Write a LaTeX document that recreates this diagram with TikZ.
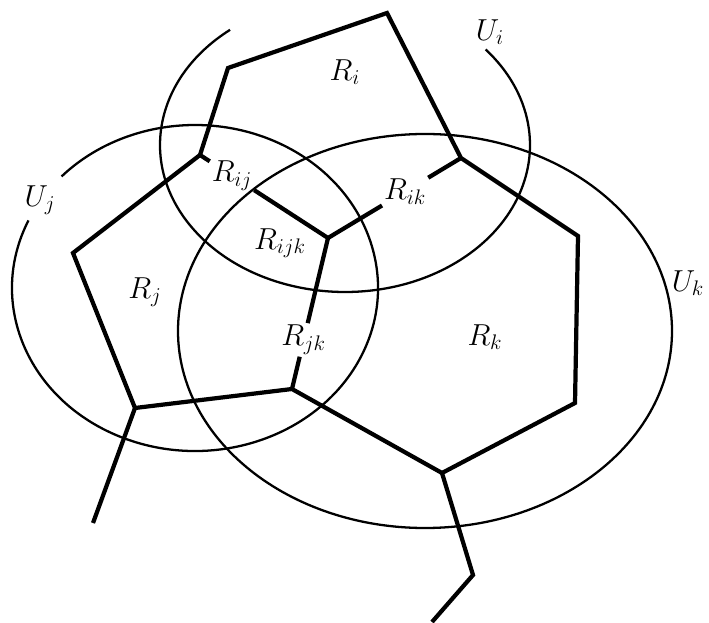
\documentclass[tikz,border=0pt]{standalone}
\usepackage{amsmath}
\usepackage{tikz}
\tikzset{
  cell/.style={line width=2.4pt, color=black},
  cover/.style={line width=1.3pt, color=black},
  lbl/.style={font=\fontsize{16.5}{20}\selectfont, inner sep=1pt}
}
\begin{document}
\begin{tikzpicture}
  \useasboundingbox (0,0) rectangle (14.18,12.44);

  % Vertices of the cells
  \coordinate (ij) at (4.00,9.34);
  \coordinate (ik) at (9.22,9.28);
  \coordinate (ijk) at (6.56,7.68);
  \coordinate (jk) at (5.84,4.66);
  \coordinate (i1) at (4.56,11.08);
  \coordinate (i2) at (7.74,12.18);
  \coordinate (k1) at (11.56,7.72);
  \coordinate (k2) at (11.50,4.38);
  \coordinate (k3) at (8.84,2.98);
  \coordinate (k4) at (9.46,0.94);
  \coordinate (k5) at (8.64,0.00);
  \coordinate (j1) at (1.46,7.38);
  \coordinate (j2) at (2.70,4.28);
  \coordinate (j3) at (1.86,1.98);

  % Open sets (ellipses)
  \draw[cover] (6.90,9.54) ++(128.4:3.70 and 2.94)
    arc[start angle=128.4, end angle=400.5, x radius=3.70, y radius=2.94];
  \draw[cover] (3.90,6.68) ++(155.5:3.66 and 3.26)
    arc[start angle=155.5, end angle=496.8, x radius=3.66, y radius=3.26];
  \draw[cover] (8.50,5.82) ellipse[x radius=4.94, y radius=3.94];

  % Labels sitting on the walls
  \path (ij) -- node[lbl, pos=0.25] (Rij) {$R_{ij}$} (ijk);
  \path (ijk) -- node[lbl, pos=0.58] (Rik) {$R_{ik}$} (ik);
  \path (ijk) -- node[lbl, pos=0.675] (Rjk) {$R_{jk}$} (jk);

  % Walls of the cells
  \draw[cell] (ij) -- (i1) -- (i2) -- (ik) -- (k1) -- (k2) -- (k3) -- (k4) -- (k5);
  \draw[cell] (ij) -- (j1) -- (j2) -- (jk) -- (k3);
  \draw[cell] (j2) -- (j3);
  \draw[cell] (ij) -- (Rij) -- (ijk) -- (Rik) -- (ik);
  \draw[cell] (ijk) -- (Rjk) -- (jk);

  % Other labels
  \node[lbl] (Ri) at (6.90,11.00) {$R_i$};
  \node[lbl] (Rijk) at (5.60,7.58) {$R_{ijk}$};
  \node[lbl] (Rj) at (2.90,6.60) {$R_j$};
  \node[lbl] (Rk) at (9.70,5.70) {$R_k$};
  \node[lbl] (Ui) at (9.80,11.80) {$U_i$};
  \node[lbl] (Uj) at (0.80,8.44) {$U_j$};
  \node[lbl] (Uk) at (13.76,6.78) {$U_k$};
\end{tikzpicture}
\end{document}
